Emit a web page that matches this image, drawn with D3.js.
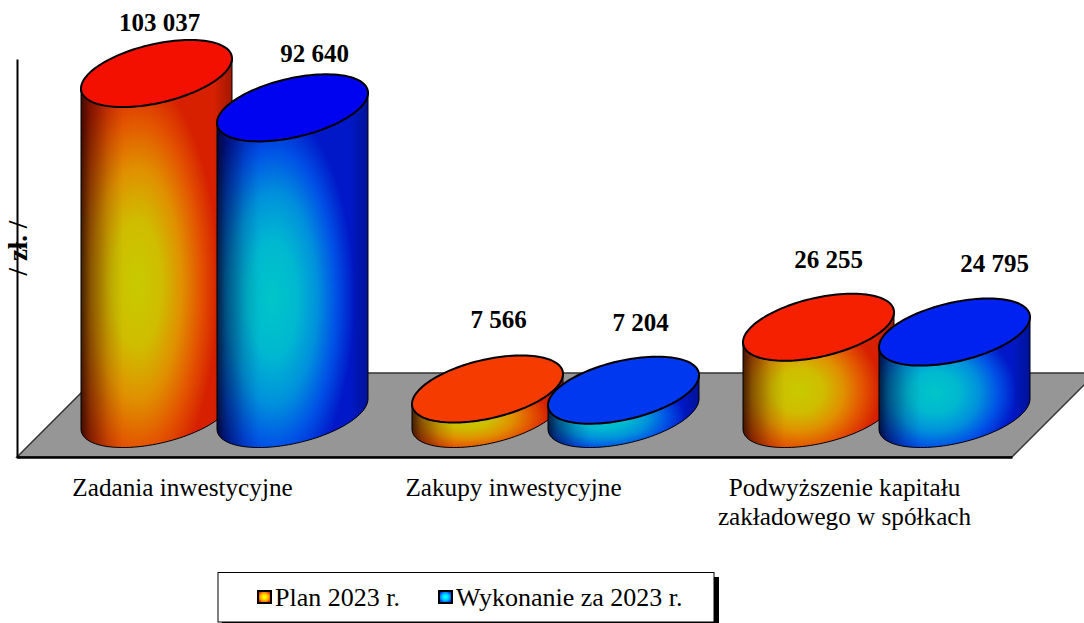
<!DOCTYPE html>
<html>
<head>
<meta charset="utf-8">
<script src="https://cdn.jsdelivr.net/npm/d3@7"></script>
<style>
  body { margin: 0; background: #fff; }
  svg { display: block; }
  text { font-family: "Liberation Serif", serif; fill: #000; }
</style>
</head>
<body>
<div id="chart-area"></div>
<script>
// Data
const categories = ["Zadania inwestycyjne", "Zakupy inwestycyjne", "Podwyższenie kapitału|zakładowego w spółkach"];
const seriesNames = ["Plan 2023 r.", "Wykonanie za 2023 r."];
const planValues = [103037, 7566, 26255];
const doneValues = [92640, 7204, 24795];
const valueLabels = [["103 037", "7 566", "26 255"], ["92 640", "7 204", "24 795"]];
const yLabel = "/ zł. /";

// Layout
const width = 1084, height = 623;
const a = 75.5;        // half width of a cylinder
const tiltY = 15;      // how far the cap leans
const capY = 30;
const baseY = 414;
// label nudges, value labels do not sit straight above the bars
const labelNudge = [[[3, -43], [11, -61], [10, -59]], [[22, -46], [17, -59], [40, -60]]];

let svg = d3.select("#chart-area")
  .append("svg")
  .attr("width", width)
  .attr("height", height);

let defs = svg.append("defs");

/** Gradients */
function bodyGradient(id, stops) {
  let g = defs.append("radialGradient")
    .attr("id", id)
    .attr("cx", 0.37).attr("cy", 0.58).attr("r", 0.54);
  stops.forEach(function(s) {
    g.append("stop").attr("offset", s[0]).attr("stop-color", s[1]);
  });
}
bodyGradient("bodyPlan", [[0, "#c8ca00"], [0.3, "#cfbd00"], [0.55, "#e09000"], [0.78, "#e35400"], [1, "#d62000"]]);
bodyGradient("bodyDone", [[0, "#00c6c8"], [0.3, "#00b8d0"], [0.55, "#0090dc"], [0.78, "#0050e6"], [1, "#0018c8"]]);

let shade = defs.append("linearGradient").attr("id", "edgeShade");
[[0, 0.7], [0.06, 0.4], [0.18, 0.12], [0.28, 0], [0.88, 0], [1, 0.25]].forEach(function(s) {
  shade.append("stop").attr("offset", s[0]).attr("stop-color", "#000").attr("stop-opacity", s[1]);
});

function swatchGradient(id, inner, mid, outer) {
  let g = defs.append("radialGradient").attr("id", id);
  g.append("stop").attr("offset", 0.2).attr("stop-color", inner);
  g.append("stop").attr("offset", 0.7).attr("stop-color", mid);
  g.append("stop").attr("offset", 1).attr("stop-color", outer);
}
swatchGradient("swatchPlan", "#ffff00", "#ffa000", "#e83000");
swatchGradient("swatchDone", "#00ffff", "#00a0ff", "#0030e0");

/** Scales */
let xScale = d3.scalePoint().domain(categories).range([224.5, 886.5]);
let seriesOffset = d3.scalePoint().domain(seriesNames).range([-68, 68]);
let yScale = d3.scaleLinear().domain([0, 103037]).range([baseY, 73.5]);

// caps get a bit more orange on the short bars
let capPlan = d3.scaleLinear().domain([7000, 26000, 100000]).range(["#f53c00", "#f52000", "#f41100"]);
let capDone = d3.scaleLinear().domain([7000, 26000, 100000]).range(["#0038f0", "#0020f0", "#0000f0"]);

/** Floor */
let floorFront = 457, floorBack = 373, floorDepth = 84;
let floorLine = d3.line();
svg.append("path")
  .attr("d", floorLine([[17, floorFront], [17 + floorDepth, floorBack], [1012 + floorDepth, floorBack], [1012, floorFront]]) + "Z")
  .attr("fill", "#969696")
  .attr("stroke", "#333")
  .attr("stroke-width", 1.5);

/** Axes (lines only) */
let axisY = d3.scaleLinear().domain([0, 1]).range([floorFront + 1, 59]);
svg.append("g")
  .attr("transform", "translate(17,0)")
  .call(d3.axisLeft(axisY).tickValues([]).tickSizeOuter(0))
  .select("path").attr("stroke", "#000").attr("stroke-width", 2);

let axisX = d3.scaleLinear().domain([0, 1]).range([17, 1012]);
svg.append("g")
  .attr("transform", "translate(0," + floorFront + ")")
  .call(d3.axisBottom(axisX).tickValues([]).tickSizeOuter(0))
  .select("path").attr("stroke", "#000").attr("stroke-width", 2.5);

/** Cylinders */
function capPoint(cx, cy, t) {
  return [cx + a * Math.cos(t), cy + capY * Math.sin(t) - tiltY * Math.cos(t)];
}

function capPath(cx, cy) {
  let pts = d3.range(0, 2 * Math.PI, 0.05).map(function(t) { return capPoint(cx, cy, t); });
  return d3.line()(pts) + "Z";
}

function sidePath(cx, top) {
  let steps = d3.range(0, Math.PI + 0.01, Math.PI / 60);
  let lower = steps.map(function(t) { return capPoint(cx, baseY, t); });
  let upper = steps.slice().reverse().map(function(t) { return capPoint(cx, top, t); });
  return d3.line()(lower.concat(upper)) + "Z";
}

let bars = [];
categories.forEach(function(cat, i) {
  bars.push({cat: cat, s: 0, i: i, value: planValues[i]});
  bars.push({cat: cat, s: 1, i: i, value: doneValues[i]});
});

bars.forEach(function(d) {
  let cx = xScale(d.cat) + seriesOffset(seriesNames[d.s]);
  let top = yScale(d.value);
  let g = svg.append("g");
  let side = sidePath(cx, top);

  g.append("path").attr("d", side)
    .attr("fill", d.s === 0 ? "url(#bodyPlan)" : "url(#bodyDone)");
  g.append("path").attr("d", side)
    .attr("fill", "url(#edgeShade)")
    .attr("stroke", "#000")
    .attr("stroke-width", 1);
  g.append("path").attr("d", capPath(cx, top))
    .attr("fill", d.s === 0 ? capPlan(d.value) : capDone(d.value))
    .attr("stroke", "#000")
    .attr("stroke-width", 2);
});

/** Value labels */
bars.forEach(function(d) {
  let cx = xScale(d.cat) + seriesOffset(seriesNames[d.s]);
  let nudge = labelNudge[d.s][d.i];
  svg.append("text")
    .attr("x", cx + nudge[0])
    .attr("y", yScale(d.value) + nudge[1])
    .attr("text-anchor", "middle")
    .attr("font-weight", "bold")
    .attr("font-size", 25)
    .text(valueLabels[d.s][d.i]);
});

/** Category labels */
categories.forEach(function(cat) {
  let t = svg.append("text")
    .attr("text-anchor", "middle")
    .attr("font-size", 25.2);
  cat.split("|").forEach(function(line, k) {
    t.append("tspan")
      .attr("x", xScale(cat) - 42)
      .attr("y", 496 + k * 29)
      .text(line);
  });
});

/** Y label */
svg.append("text")
  .attr("transform", "translate(27,248) rotate(-90)")
  .attr("text-anchor", "middle")
  .attr("font-weight", "bold")
  .attr("font-size", 27)
  .text(yLabel);

/** Legend */
let legend = svg.append("g");
legend.append("rect").attr("x", 222).attr("y", 577).attr("width", 497).attr("height", 46).attr("fill", "#000");
legend.append("rect").attr("x", 218).attr("y", 572.5).attr("width", 496).attr("height", 49.5)
  .attr("fill", "#fff").attr("stroke", "#000").attr("stroke-width", 1);

let legendX = [257, 438];
seriesNames.forEach(function(name, i) {
  legend.append("rect")
    .attr("x", legendX[i] + 1).attr("y", 591)
    .attr("width", 13).attr("height", 12)
    .attr("fill", i === 0 ? "url(#swatchPlan)" : "url(#swatchDone)")
    .attr("stroke", "#000")
    .attr("stroke-width", 2);
  legend.append("text")
    .attr("x", legendX[i] + 18)
    .attr("y", 606)
    .attr("font-size", 26)
    .text(name);
});
</script>
</body>
</html>
